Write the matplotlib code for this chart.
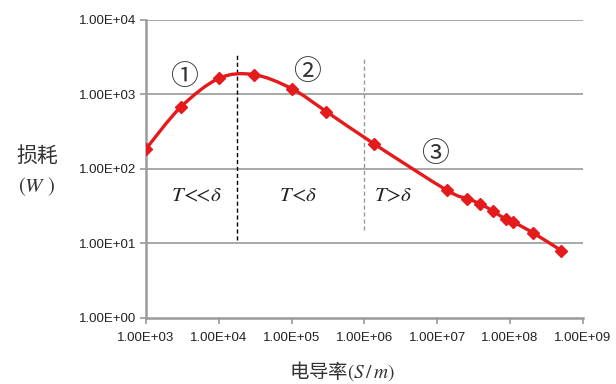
import numpy as np
import matplotlib
matplotlib.use('Agg')
import matplotlib.pyplot as plt
from matplotlib.path import Path
from matplotlib.patches import PathPatch

plt.rcParams['font.family'] = ['Liberation Sans', 'DejaVu Sans']
plt.rcParams['mathtext.fontset'] = 'stix'

# 数据
sigma = [1e3, 3e3, 1e4, 3e4, 1e5, 3e5, 1.35e6, 1.35e7, 2.6e7, 3.9e7, 5.9e7, 8.9e7, 1.1e8, 2.1e8, 5.1e8]
loss = [186, 676, 1640, 1850, 1200, 590, 218, 52, 40, 34, 27, 21, 19.5, 13.8, 8.0]
xticks = [1e3, 1e4, 1e5, 1e6, 1e7, 1e8, 1e9]
yticks = [1e0, 1e1, 1e2, 1e3, 1e4]
xtick_labels = ['1.00E+03', '1.00E+04', '1.00E+05', '1.00E+06', '1.00E+07', '1.00E+08', '1.00E+09']
ytick_labels = ['1.00E+00', '1.00E+01', '1.00E+02', '1.00E+03', '1.00E+04']
region_x = [1.8e4, 1e6]
region_labels = [r'$T\!<\!\!\!<\!\delta$', r'$T\!<\!\delta$', r'$T\!>\!\delta$']
region_label_x = [2.2e3, 6.7e4, 1.35e6]
circle_labels = ['①', '②', '③']
circle_x = [3.3e3, 1.6e5, 9.4e6]
circle_y = [1740, 2000, 160]

red = '#e41a1c'
grey = '#9a9a9a'

fig = plt.figure(figsize=(6.16, 3.84), dpi=100)
ax = fig.add_axes([0.237, 0.172, 0.709, 0.776])
ax.set_xscale('log')
ax.set_yscale('log')
ax.set_xlim(1e3, 1e9)
ax.set_ylim(1e0, 1e4)

# 平滑曲线 (Catmull-Rom -> Bezier, 在对数空间中)
lx = np.log10(sigma)
ly = np.log10(loss)
n = len(lx)
verts = [(sigma[0], loss[0])]
codes = [Path.MOVETO]
for i in range(n - 1):
    p0 = i - 1 if i > 0 else i
    p3 = i + 2 if i + 2 < n else i + 1
    c1x = lx[i] + (lx[i + 1] - lx[p0]) / 6
    c1y = ly[i] + (ly[i + 1] - ly[p0]) / 6
    c2x = lx[i + 1] - (lx[p3] - lx[i]) / 6
    c2y = ly[i + 1] - (ly[p3] - ly[i]) / 6
    verts += [(10 ** c1x, 10 ** c1y), (10 ** c2x, 10 ** c2y), (sigma[i + 1], loss[i + 1])]
    codes += [Path.CURVE4] * 3
ax.add_patch(PathPatch(Path(verts, codes), fill=False, edgecolor=red, lw=2.4, zorder=3))
ax.plot(sigma, loss, ls='none', marker='D', ms=6, color=red, zorder=4)

for y in yticks[1:]:
    ax.axhline(y, color=grey, lw=1.2, zorder=1)

ax.plot([region_x[0]] * 2, [11, 3500], ls=(0, (3, 2)), color='black', lw=1.0, zorder=2)
ax.plot([region_x[1]] * 2, [15, 3000], ls=(0, (3, 2)), color=grey, lw=1.0, zorder=2)

for s in ['top', 'right']:
    ax.spines[s].set_visible(False)
for s in ['left', 'bottom']:
    ax.spines[s].set_color(grey)
    ax.spines[s].set_linewidth(1.8)

ax.set_xticks(xticks)
ax.set_xticklabels(xtick_labels)
ax.set_yticks(yticks)
ax.set_yticklabels(ytick_labels)
ax.minorticks_off()
ax.tick_params(axis='both', colors=grey, labelcolor='#222222', labelsize=9.5, length=4, width=1.2)
ax.tick_params(axis='x', pad=6)
ax.tick_params(axis='y', pad=3)

for x, lab in zip(region_label_x, region_labels):
    ax.text(x, 43, lab, fontsize=15, ha='left', va='center', color='#222222')
for x, y, lab in zip(circle_x, circle_y, circle_labels):
    ax.text(x, y, lab, fontsize=20, ha='center', va='center', color='#333333',
            family=['Noto Sans CJK SC', 'DejaVu Sans'])

fig.text(0.06, 0.595, '损耗', fontsize=15, ha='center', va='center', color='#333333',
         family=['Noto Sans CJK SC', 'DejaVu Sans'])
fig.text(0.06, 0.515, r'$(W\ )$', fontsize=15, ha='center', va='center', color='#333333')
fig.text(0.555, 0.035, r'电导率$(S\,/\,m)$', fontsize=14, ha='center', va='center', color='#333333',
         family=['Noto Sans CJK SC', 'DejaVu Sans'])

fig.savefig('out.png', dpi=100)
